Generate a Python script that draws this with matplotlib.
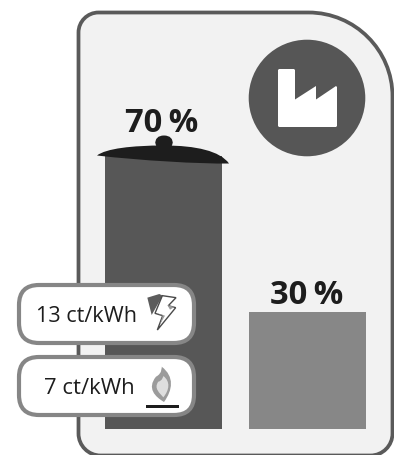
import matplotlib
matplotlib.use("Agg")
import matplotlib.pyplot as plt
from matplotlib.path import Path
from matplotlib.patches import PathPatch, Circle, FancyBboxPatch, Polygon, Rectangle

shares = [70, 30]
bar_colors = ["#575757", "#878787"]
price_labels = ["13 ct/kWh", "7 ct/kWh"]

DARK = "#1d1d1d"
W, H = 394, 455
fig = plt.figure(figsize=(W / 100, H / 100), dpi=100, facecolor="white")

# pixel-coordinate layer for the drawn pictograms
bg = fig.add_axes([0, 0, 1, 1], zorder=1)
bg.set_xlim(0, W); bg.set_ylim(H, 0); bg.axis("off")

def rounded_frame(l, t, r, b, tl, tr, br, bl):
    k = 0.5523
    v = [(l + tl, t), (r - tr, t),
         (r - tr + k * tr, t), (r, t + tr - k * tr), (r, t + tr),
         (r, b - br), (r, b - br + k * br), (r - br + k * br, b), (r - br, b),
         (l + bl, b), (l + bl - k * bl, b), (l, b - bl + k * bl), (l, b - bl),
         (l, t + tl), (l, t + tl - k * tl), (l + tl - k * tl, t), (l + tl, t), (l + tl, t)]
    c = [Path.MOVETO, Path.LINETO, Path.CURVE4, Path.CURVE4, Path.CURVE4,
         Path.LINETO, Path.CURVE4, Path.CURVE4, Path.CURVE4,
         Path.LINETO, Path.CURVE4, Path.CURVE4, Path.CURVE4,
         Path.LINETO, Path.CURVE4, Path.CURVE4, Path.CURVE4, Path.CLOSEPOLY]
    return Path(v, c)

bg.add_patch(PathPatch(rounded_frame(78.5, 12.5, 392.5, 455.5, 20, 84, 22, 22),
                       facecolor="#f2f2f2", edgecolor="#5a5a5a", lw=2.7))

# bars: full-figure data axes, percent on y
ax = fig.add_axes([0, 0, 1, 1], zorder=2)
ax.patch.set_alpha(0)
ax.set_xlim(-163.5 / 144, (W - 163.5) / 144)
ax.set_ylim(-26 / 3.9, 429 / 3.9)
ax.axis("off")
ax.bar(range(len(shares)), shares, width=117 / 144, color=bar_colors, linewidth=0)

# overlay
fg = fig.add_axes([0, 0, 1, 1], zorder=3)
fg.patch.set_alpha(0)
fg.set_xlim(0, W); fg.set_ylim(H, 0); fg.axis("off")

# value labels
font = "Open Sans"
fg.text(161.5, 132, f"{shares[0]}\u2009%", fontsize=23.6, fontweight="bold", family=font,
        color=DARK, ha="center", va="baseline")
fg.text(306.5, 304, f"{shares[1]}\u2009%", fontsize=23.6, fontweight="bold", family=font,
        color=DARK, ha="center", va="baseline")

# pot lid
lid = Path([(97, 155.5), (106, 148.5), (132, 145.5), (164, 145.5), (196, 145.5), (220, 151), (229, 163.5),
            (200, 164), (140, 160.5), (97, 155.5), (97, 155.5)],
           [Path.MOVETO, Path.CURVE4, Path.CURVE4, Path.CURVE4, Path.CURVE4, Path.CURVE4, Path.CURVE4,
            Path.CURVE4, Path.CURVE4, Path.CURVE4, Path.CLOSEPOLY])
fg.add_patch(PathPatch(lid, facecolor=DARK, edgecolor="none"))
fg.add_patch(FancyBboxPatch((155, 135.5), 18, 14, boxstyle="round,pad=0,rounding_size=8.9",
                            facecolor=DARK, edgecolor="none"))

# factory icon
fg.add_patch(Circle((307, 98), 58.3, facecolor="#565656", edgecolor="none"))
fg.add_patch(Polygon([(279, 69), (294, 69), (295, 70), (295, 99.5), (316, 86), (316, 99.5),
                      (336, 86), (337, 87), (337, 126), (336, 127), (279, 127), (278, 126), (278, 70)],
                     closed=True, facecolor="white", edgecolor="none"))

# price pills
for (top, bottom) in [(285, 343), (357, 415)]:
    fg.add_patch(FancyBboxPatch((19, top), 175, bottom - top,
                                boxstyle="round,pad=0,rounding_size=20",
                                facecolor="white", edgecolor="#868686", lw=3))
fg.text(36, 322, price_labels[0], fontsize=15.6, family=font, color=DARK, ha="left", va="baseline")
fg.text(44, 394, price_labels[1], fontsize=15.9, family=font, color=DARK, ha="left", va="baseline")

# lightning icon
def z4(pts):
    return [(140 + x / 3, 285 + y / 3) for x, y in pts]
fg.add_patch(Polygon(z4([(22, 38), (58, 27), (68, 32), (35, 90)]), closed=True,
                     facecolor="#5c5c5c", edgecolor="none"))
fg.add_patch(Polygon(z4([(67, 32), (108, 38), (85, 62), (107, 68), (52, 135), (68, 92), (45, 85)]),
                     closed=True, facecolor="white", edgecolor="#4a4a4a", lw=1.0, joinstyle="miter"))
fg.add_patch(Polygon(z4([(50, 85), (75, 92), (60, 118), (68, 92)]), closed=True,
                     facecolor="#9a9a9a", edgecolor="none"))
fg.add_patch(Polygon(z4([(82, 60), (103, 66), (90, 74)]), closed=True,
                     facecolor="#9a9a9a", edgecolor="none"))

# flame icon
def z5(pts):
    return [(140 + x / 3, 360 + y / 3) for x, y in pts]
outer = Path(z5([(65, 20), (104, 50), (98, 90), (72, 126),
                 (45, 110), (20, 85), (48, 50), (68, 40), (65, 20), (65, 20)]),
             [Path.MOVETO, Path.CURVE4, Path.CURVE4, Path.CURVE4,
              Path.CURVE4, Path.CURVE4, Path.CURVE4, Path.CURVE4, Path.CURVE4, Path.CLOSEPOLY])
fg.add_patch(PathPatch(outer, facecolor="#9b9b9b", edgecolor="none"))
inner = Path(z5([(70, 48), (92, 65), (88, 90), (70, 112),
                 (60, 100), (40, 85), (55, 65), (68, 62), (70, 48), (70, 48)]),
             [Path.MOVETO, Path.CURVE4, Path.CURVE4, Path.CURVE4,
              Path.CURVE4, Path.CURVE4, Path.CURVE4, Path.CURVE4, Path.CURVE4, Path.CLOSEPOLY])
fg.add_patch(PathPatch(inner, facecolor="#dedede", edgecolor="none"))
fg.add_patch(Rectangle((146, 405), 33.3, 3, facecolor=DARK, edgecolor="none"))

fig.savefig("out.png", dpi=100, facecolor="white")
